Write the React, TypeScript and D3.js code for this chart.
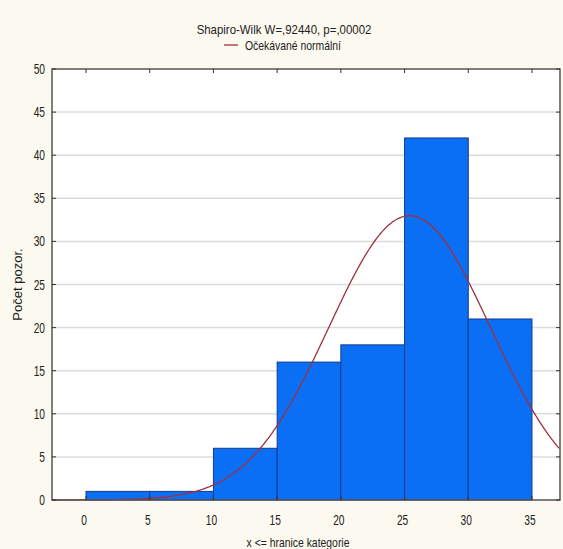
import React from "react";
import * as d3 from "d3";

const binStarts = [0, 5, 10, 15, 20, 25, 30];
const binWidth = 5;
const counts = [1, 1, 6, 16, 18, 42, 21];
const xTicks = [0, 5, 10, 15, 20, 25, 30, 35];
const yTicks = [0, 5, 10, 15, 20, 25, 30, 35, 40, 45, 50];
const normalMean = 25.4;
const normalSd = 6.35;
const titleText = "Shapiro-Wilk W=,92440, p=,00002";
const legendText = "Očekávané normální";
const xLabel = "x <= hranice kategorie";
const yLabel = "Počet pozor.";

const W = 563;
const H = 549;
const plot = { left: 52, right: 560, top: 69, bottom: 500 };
const FONT = "'Liberation Sans', Arial, sans-serif";

function NarrowText(props: {
  x: number;
  y: number;
  anchor?: "start" | "middle" | "end";
  size: number;
  sx: number;
  children: React.ReactNode;
}) {
  return (
    <g transform={`translate(${props.x},${props.y}) scale(${props.sx},1)`}>
      <text x={0} y={0} textAnchor={props.anchor || "start"} fontFamily={FONT} fontSize={props.size} fill="#222">
        {props.children}
      </text>
    </g>
  );
}

export default function App() {
  const x = d3.scaleLinear().domain([-2.67, 37.2]).range([plot.left, plot.right]);
  const y = d3.scaleLinear().domain([0, 50]).range([plot.bottom, plot.top]);
  const total = d3.sum(counts);
  const [x0, x1] = x.domain();
  const curvePts = d3.range(x0, x1 + 0.001, 0.1).map((v) => {
    const z = (v - normalMean) / normalSd;
    const val = ((total * binWidth) / (normalSd * Math.sqrt(2 * Math.PI))) * Math.exp(-0.5 * z * z);
    return [v, val] as [number, number];
  });
  const line = d3
    .line<[number, number]>()
    .x((d) => x(d[0]))
    .y((d) => y(d[1]))
    .curve(d3.curveBasis);
  const tickColor = "#333";
  return (
    <svg width={W} height={H} style={{ position: "absolute", left: 0, top: 0, background: "#fcfaf0" }}>
      <rect x={plot.left} y={plot.top} width={plot.right - plot.left} height={plot.bottom - plot.top} fill="#ffffff" />
      {yTicks.slice(1, -1).map((t) => (
        <line key={"g" + t} x1={plot.left} x2={plot.right} y1={y(t)} y2={y(t)} stroke="#dcdcdc" strokeWidth={1.5} />
      ))}
      {binStarts.map((b, i) => (
        <rect
          key={"b" + b}
          x={x(b)}
          y={y(counts[i])}
          width={x(b + binWidth) - x(b)}
          height={y(0) - y(counts[i])}
          fill="#0a6ff5"
          stroke="#143c8c"
          strokeWidth={1}
        />
      ))}
      <path d={line(curvePts) || ""} fill="none" stroke="#a0303c" strokeWidth={1.3} />
      <rect
        x={plot.left}
        y={plot.top}
        width={plot.right - plot.left}
        height={plot.bottom - plot.top}
        fill="none"
        stroke="#555"
        strokeWidth={1.5}
      />
      {yTicks.map((t) => (
        <g key={"yt" + t}>
          <line x1={plot.left} x2={plot.left + 4} y1={y(t)} y2={y(t)} stroke={tickColor} strokeWidth={1} />
          <line x1={plot.right - 4} x2={plot.right} y1={y(t)} y2={y(t)} stroke={tickColor} strokeWidth={1} />
          <NarrowText x={plot.left - 7} y={y(t) + 5} anchor="end" size={15} sx={0.68}>
            {t}
          </NarrowText>
        </g>
      ))}
      {xTicks.map((t) => (
        <g key={"xt" + t}>
          <line x1={x(t)} x2={x(t)} y1={plot.bottom} y2={plot.bottom - 4} stroke={tickColor} strokeWidth={1} />
          <line x1={x(t)} x2={x(t)} y1={plot.top} y2={plot.top + 4} stroke={tickColor} strokeWidth={1} />
          <NarrowText x={x(t) - 2} y={plot.bottom + 25} anchor="middle" size={15} sx={0.68}>
            {t}
          </NarrowText>
        </g>
      ))}
      <NarrowText x={284} y={34} anchor="middle" size={13} sx={0.88}>
        {titleText}
      </NarrowText>
      <line x1={224} x2={238} y1={45} y2={45} stroke="#a0303c" strokeWidth={1.3} />
      <NarrowText x={245} y={50} size={13} sx={0.8}>
        {legendText}
      </NarrowText>
      <NarrowText x={298} y={547} anchor="middle" size={13} sx={0.8}>
        {xLabel}
      </NarrowText>
      <text
        transform={`translate(22, ${(plot.top + plot.bottom) / 2}) rotate(-90)`}
        textAnchor="middle"
        fontFamily={FONT}
        fontSize={13}
        fill="#222"
      >
        {yLabel}
      </text>
    </svg>
  );
}
